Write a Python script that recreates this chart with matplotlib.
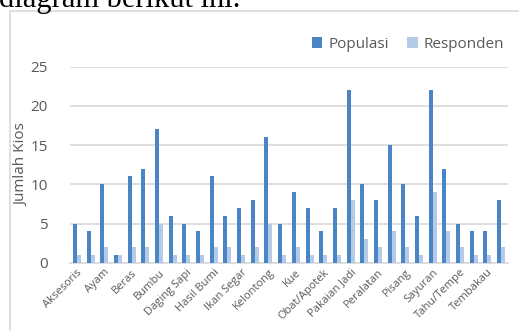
import matplotlib
matplotlib.use("Agg")
import matplotlib.pyplot as plt
import numpy as np
from matplotlib.patches import Rectangle

tick_labels = ["Aksesoris", "Ayam", "Beras", "Bumbu", "Daging Sapi", "Hasil Bumi",
               "Ikan Segar", "Kelontong", "Kue", "Obat/Apotek", "Pakaian Jadi",
               "Peralatan", "Pisang", "Sayuran", "Tahu/Tempe", "Tembakau"]
populasi = [5, 4, 10, 1, 11, 12, 17, 6, 5, 4, 11, 6, 7, 8, 16, 5,
            9, 7, 4, 7, 22, 10, 8, 15, 10, 6, 22, 12, 5, 4, 4, 8]
responden = [1, 1, 2, 1, 2, 2, 5, 1, 1, 1, 2, 2, 1, 2, 5, 1,
             2, 1, 1, 1, 8, 3, 2, 4, 2, 1, 9, 4, 2, 1, 1, 2]
yticks = [0, 5, 10, 15, 20, 25]

W, H = 519, 331
fig = plt.figure(figsize=(W / 100, H / 100), dpi=100)
fig.patch.set_facecolor("white")

font = "Open Sans"
gray = "#595959"

# caption text cut off at top
fig.text(-0.002, 1 - 6.5 / H, "diagram berikut ini.", family="Liberation Serif",
         fontsize=22, va="baseline", ha="left", color="black")

# chart frame
fig.add_artist(Rectangle((9.5 / W, -0.05), 1.0, 1 - 11 / H + 0.05,
                         transform=fig.transFigure, fill=False,
                         edgecolor="#D9D9D9", linewidth=1.2))

ax = fig.add_axes([70 / W, 1 - 262.7 / H, (508 - 70) / W, (262.7 - 66.7) / H])
x = np.arange(len(populasi))
w = 0.29
ax.bar(x - w / 2, populasi, width=w, color="#4A86C5", label="Populasi", zorder=3)
ax.bar(x + w / 2, responden, width=w, color="#B4CBE8", label="Responden", zorder=3)

ax.set_xlim(-0.5, len(populasi) - 0.5)
ax.set_ylim(0, 25)
ax.set_yticks(yticks)
ax.grid(axis="y", color="#D9D9D9", linewidth=1.2, zorder=0)
for s in ["top", "right", "left"]:
    ax.spines[s].set_visible(False)
ax.spines["bottom"].set_color("#D9D9D9")
ax.spines["bottom"].set_linewidth(1.2)
ax.tick_params(axis="y", length=0, pad=16, labelsize=11, labelcolor=gray)
ax.tick_params(axis="x", length=0, pad=3)
for lab in ax.get_yticklabels():
    lab.set_family(font)

ax.set_xticks(x[::2])
ax.set_xticklabels(tick_labels, rotation=45, ha="right", rotation_mode="anchor",
                   fontsize=8, color=gray, family=font)

ax.set_ylabel("Jumlah Kios", fontsize=11, color=gray, family=font)
ax.yaxis.set_label_coords(-0.092, 0.5)

leg = fig.legend(loc="center", bbox_to_anchor=(408 / W, 1 - 44 / H), ncol=2,
                 frameon=False, prop={"family": font, "size": 11},
                 handlelength=0.7, handleheight=0.7, handletextpad=0.4,
                 columnspacing=1.2, labelcolor=gray)

fig.savefig("out.png", dpi=100, facecolor="white")
